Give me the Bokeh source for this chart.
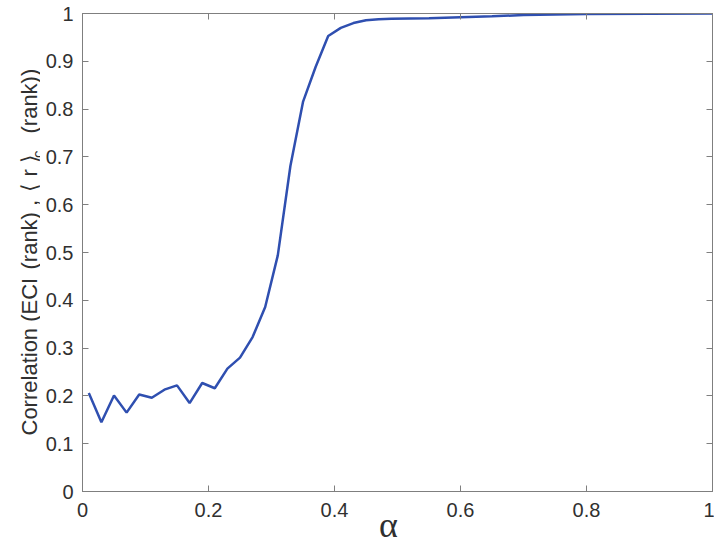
import math
from bokeh.plotting import figure
from bokeh.models import Range1d, LinearAxis, FixedTicker
from bokeh.layouts import row
from bokeh.core.properties import value
from bokeh.embed import file_html
from bokeh.resources import INLINE

alpha = [0.01, 0.03, 0.05, 0.07, 0.09, 0.11, 0.13, 0.15, 0.17, 0.19,
         0.21, 0.23, 0.25, 0.27, 0.29, 0.31, 0.33, 0.35, 0.37, 0.39,
         0.41, 0.43, 0.45, 0.47, 0.49, 0.55, 0.60, 0.65, 0.70, 0.80,
         0.90, 1.00]
corr = [0.206, 0.145, 0.201, 0.165, 0.203, 0.196, 0.213, 0.222, 0.185, 0.227,
        0.216, 0.257, 0.280, 0.323, 0.386, 0.494, 0.681, 0.815, 0.888, 0.953,
        0.970, 0.980, 0.986, 0.988, 0.989, 0.990, 0.992, 0.994, 0.997, 0.999,
        0.9995, 1.000]

x_ticks = [0, 0.2, 0.4, 0.6, 0.8, 1.0]
y_ticks = [0, 0.1, 0.2, 0.3, 0.4, 0.5, 0.6, 0.7, 0.8, 0.9, 1.0]

y_label_parts = ["Correlation (ECI", "(rank) ,", "\u27e8 r \u27e9", "c", "(rank))"]
x_label = "\u03b1"

AX = "#7f7f7f"
TXT = "#303030"
FONT = "Liberation Sans"

W_ALL, H_ALL = 714, 549
W_LEFT = 40
TOP, BOTTOM = 13, 58           # frame borders (page px)
FRAME_LEFT, FRAME_RIGHT = 82, 712

# ---------------- main plot ----------------
p = figure(width=W_ALL - W_LEFT, height=H_ALL, output_backend="svg", toolbar_location=None,
           x_range=Range1d(0, 1), y_range=Range1d(0, 1),
           min_border_left=FRAME_LEFT - W_LEFT, min_border_right=W_ALL - FRAME_RIGHT,
           min_border_top=TOP, min_border_bottom=BOTTOM)
p.grid.visible = False
p.outline_line_color = AX
p.outline_line_width = 1
p.background_fill_color = "white"
p.border_fill_color = "white"

for ax in (p.xaxis[0], p.yaxis[0]):
    ax.axis_line_color = AX
    ax.major_tick_line_color = AX
    ax.major_tick_in = 6
    ax.major_tick_out = 0
    ax.minor_tick_line_color = None
    ax.major_label_text_font = FONT
    ax.major_label_text_font_size = "20px"
    ax.major_label_text_color = TXT
    ax.major_label_text_font_style = "normal"

p.xaxis[0].ticker = FixedTicker(ticks=x_ticks)
p.yaxis[0].ticker = FixedTicker(ticks=y_ticks)
p.xaxis[0].major_label_overrides = {0: "0", 1: "1"}
p.yaxis[0].major_label_overrides = {0: "0", 1: "1"}
p.xaxis[0].major_label_standoff = 11
p.yaxis[0].major_label_standoff = 9

xa = p.xaxis[0]
xa.axis_label = x_label + "\u00a0\u00a0"
xa.axis_label_text_font = "Liberation Serif"
xa.axis_label_text_font_size = "36px"
xa.axis_label_text_font_style = "normal"
xa.axis_label_text_color = TXT
xa.axis_label_standoff = -15

for loc, ticks in (("above", x_ticks), ("right", y_ticks)):
    a = LinearAxis(ticker=FixedTicker(ticks=ticks))
    a.axis_line_color = AX
    a.major_tick_line_color = AX
    a.major_tick_in = 6
    a.major_tick_out = 0
    a.minor_tick_line_color = None
    a.major_label_text_font_size = "0px"
    a.major_label_standoff = 0
    p.add_layout(a, loc)

p.line(alpha, corr, line_color="#2f4fb0", line_width=2.5)

fh = (H_ALL - BOTTOM) - TOP

# ---------------- y label strip: frame matches main frame vertically ----------------
left = figure(width=W_LEFT, height=H_ALL, output_backend="svg", toolbar_location=None,
              x_range=Range1d(0, W_LEFT), y_range=Range1d(0, fh),
              x_axis_location=None, y_axis_location=None,
              min_border_left=0, min_border_right=0,
              min_border_top=TOP, min_border_bottom=BOTTOM)
left.grid.visible = False
left.outline_line_color = None
left.background_fill_color = "white"
left.border_fill_color = "white"

# (page x of baseline, page y where the text starts, font size)
anchors = [(29, 435, "22px"), (29, 269, "22px"), (29, 191, "22px"),
           (36.5, 157.5, "15px"), (29, 133, "22px")]
bottom_px = H_ALL - BOTTOM
for txt, (bx, by, fs) in zip(y_label_parts, anchors):
    left.text(x=[bx], y=[bottom_px - by], text=[txt], angle=math.pi / 2,
              text_font=value(FONT), text_font_size=value(fs), text_color=TXT,
              text_align="left", text_baseline="alphabetic")

layout = row(left, p, spacing=0)
open("out.html", "w").write(file_html(layout, INLINE))
